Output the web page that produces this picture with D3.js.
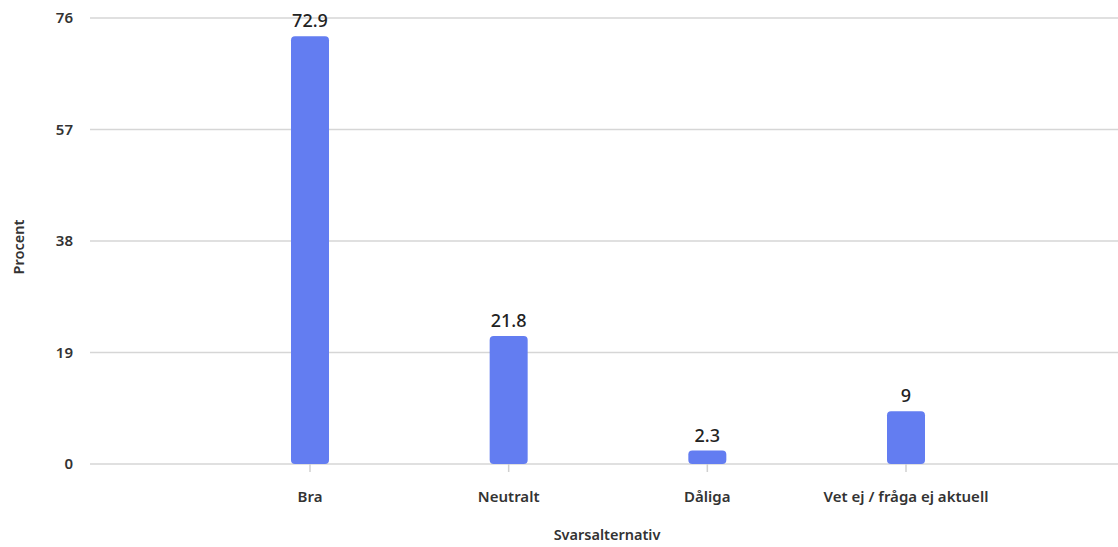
<!DOCTYPE html>
<html>
<head>
<meta charset="utf-8">
<script src="https://cdn.jsdelivr.net/npm/d3@7"></script>
<style>
  body { margin: 0; background: #fff; }
  svg { display: block; font-family: "Noto Sans", "Open Sans", sans-serif; }
</style>
</head>
<body>
<svg id="chart"></svg>
<script>
// Svarsalternativ, procent
const categories = ["Bra", "Neutralt", "Dåliga", "Vet ej / fråga ej aktuell"];
const values = [72.9, 21.8, 2.3, 9];
const yTicks = [0, 19, 38, 57, 76];

const width = 1118, height = 547;

const svg = d3.select("#chart")
    .attr("width", width)
    .attr("height", height)
    .attr("viewBox", [0, 0, width, height]);

const x = d3.scalePoint()
    .domain(categories)
    .range([310, 906]);

const y = d3.scaleLinear()
    .domain([0, 76])
    .range([464, 18]);

const gridLeft = 90, gridRight = width;
const barWidth = 38;

// horizontal grid lines
svg.append("g")
    .selectAll("line")
    .data(yTicks)
    .join("line")
    .attr("x1", gridLeft)
    .attr("x2", gridRight)
    .attr("y1", d => y(d))
    .attr("y2", d => y(d))
    .attr("stroke", "#d6d6d6")
    .attr("stroke-width", 1.5);

// y tick labels
svg.append("g")
    .selectAll("text")
    .data(yTicks)
    .join("text")
    .attr("x", 73)
    .attr("y", d => y(d))
    .attr("dy", "0.35em")
    .attr("text-anchor", "end")
    .attr("fill", "#333")
    .style("font-size", "15px")
    .style("font-weight", 600)
    .text(d => d);

// x tick marks
svg.append("g")
    .selectAll("line")
    .data(categories)
    .join("line")
    .attr("x1", d => x(d))
    .attr("x2", d => x(d))
    .attr("y1", y(0))
    .attr("y2", y(0) + 8)
    .attr("stroke", "#d0d0d0")
    .attr("stroke-width", 1.5);

// bars
svg.append("g")
    .selectAll("rect")
    .data(values)
    .join("rect")
    .attr("x", (d, i) => x(categories[i]) - barWidth / 2)
    .attr("y", d => y(d))
    .attr("width", barWidth)
    .attr("height", d => y(0) - y(d))
    .attr("rx", 4)
    .attr("fill", "#637df1");

// value labels
svg.append("g")
    .selectAll("text")
    .data(values)
    .join("text")
    .attr("x", (d, i) => x(categories[i]))
    .attr("y", d => y(d) - 9)
    .attr("text-anchor", "middle")
    .attr("fill", "#222")
    .style("font-size", "18px")
    .style("font-weight", 500)
    .text(d => d);

// x tick labels
svg.append("g")
    .selectAll("text")
    .data(categories)
    .join("text")
    .attr("x", d => x(d))
    .attr("y", 502)
    .attr("text-anchor", "middle")
    .attr("fill", "#333")
    .style("font-size", "15px")
    .style("font-weight", 600)
    .text(d => d);

// axis titles
svg.append("text")
    .attr("x", 607)
    .attr("y", 540)
    .attr("text-anchor", "middle")
    .attr("fill", "#333")
    .style("font-size", "14.5px")
    .style("font-weight", 600)
    .text("Svarsalternativ");

svg.append("text")
    .attr("transform", "translate(24, 247) rotate(-90)")
    .attr("text-anchor", "middle")
    .attr("fill", "#333")
    .style("font-size", "14.5px")
    .style("font-weight", 600)
    .text("Procent");
</script>
</body>
</html>
